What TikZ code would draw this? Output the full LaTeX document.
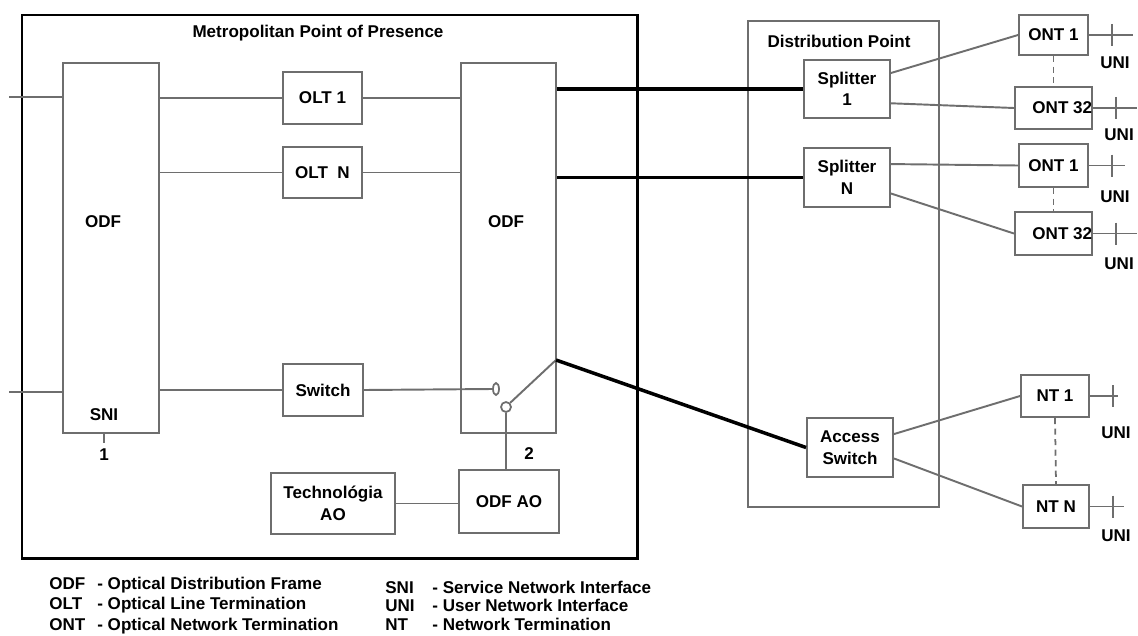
\documentclass[tikz,border=0pt]{standalone}
\usepackage{fontspec}
\setmainfont{Liberation Sans}
\usetikzlibrary{shapes.geometric}
\definecolor{wiregray}{HTML}{6E6E6E}
\tikzset{
  every node/.style={font=\fontsize{9.7}{12.3}\selectfont\bfseries},
  box/.style n args={2}{draw=wiregray, line width=1.1pt, inner sep=0pt, align=center,
    minimum width=#1*0.02cm, minimum height=#2*0.02cm},
  thinlink/.style={draw=wiregray, line width=1.1pt},
  fibrelink/.style={draw=black, line width=2pt},
  dotlink/.style={draw=wiregray, line width=1pt, dash pattern=on 3.5pt off 2.5pt},
}
\begin{document}
\begin{tikzpicture}[x=0.02cm, y=-0.02cm]
      \useasboundingbox (0,0) rectangle (1138,635);
      % metropolitan point of presence
      \node[box={615}{543}, draw=black, line width=1.7pt] (pop) at (329.5,286.5) {};
      \node (popTitle) at (318,33) {Metropolitan Point of Presence};
      \node[box={96}{370}] (odfA) at (111,248) {};
      \node (odfAlbl) at (103,222) {ODF};
      \node (sni) at (104,415) {SNI};
      \node (sniNum) at (104,455) {1};
      \node[box={79}{52}] (olt1) at (322.5,98) {OLT 1};
      \node[box={79}{51}] (oltN) at (322.5,172.5) {OLT\ \ N};
      \node[box={80}{52}] (switch) at (323,390) {Switch};
      \node[box={124}{61}] (tech) at (333,503.5) {Technológia\\AO};
      \node[box={95}{370}] (odfB) at (508.5,248) {};
      \node (odfBlbl) at (506,222) {ODF};
      \node[box={100}{63}] (odfAO) at (509,501.5) {ODF AO};
      \node[ellipse, draw=wiregray, line width=1pt, inner sep=0pt,
        minimum width=6*0.02cm, minimum height=12*0.02cm] (swA) at (496,389) {};
      \node[circle, draw=wiregray, line width=1pt, inner sep=0pt,
        minimum size=10*0.02cm] (swB) at (506,407) {};
      \node (portNum) at (529,454) {2};
      % distribution point
      \node[box={191}{486}] (dp) at (843.5,264) {};
      \node (dpTitle) at (839,41) {Distribution Point};
      \node[box={86}{58}] (spl1) at (847,89) {Splitter\\1};
      \node[box={86}{59}] (splN) at (847,177.5) {Splitter\\N};
      \node[box={86}{59}] (acc) at (850,447.5) {Access\\Switch};
      % terminations
      \node[box={69}{40}] (ont1a) at (1053.5,35) {ONT 1};
      \node[box={69}{42}] (ont32a) at (1053.5,108) {\hspace*{10pt}ONT 32};
      \node[box={69}{43}] (ont1b) at (1053.5,165.5) {ONT 1};
      \node[box={69}{43}] (ont32b) at (1053.5,233.5) {\hspace*{10pt}ONT 32};
      \node[box={68}{42}] (nt1) at (1055,396) {NT 1};
      \node[box={66}{43}] (ntN) at (1056,506.5) {NT N};
      \coordinate (inTop) at (9,97);
      \coordinate (inBot) at (9,392);
      \coordinate (lever) at (556,360);
      \begin{scope}[thinlink]
        \draw (inTop) -- (inTop -| odfA.west);
        \draw (inBot) -- (inBot -| odfA.west);
        \draw (odfA.east |- olt1.west) -- (olt1.west);
        \draw (odfA.east |- oltN.west) -- (oltN.west);
        \draw (odfA.east |- switch.west) -- (switch.west);
        \draw (olt1.east) -- (olt1.east -| odfB.west);
        \draw (oltN.east) -- (oltN.east -| odfB.west);
        \draw (switch.east) -- (swA.west);
        \draw (swB.45) -- (lever);
        \draw (swB.south) -- (swB.south |- odfAO.north);
        \draw (tech.east) -- (tech.east -| odfAO.west);
        \draw (sni |- odfA.south) -- ++(0,9);
        \draw (spl1.20) -- (ont1a.west);
        \draw (spl1.-18) -- (ont32a.west);
        \draw (splN.17) -- (ont1b.west);
        \draw (splN.-20) -- (ont32b.west);
        \draw (acc.17) -- (nt1.west);
        \draw (acc.-14) -- (ntN.west);
      \end{scope}
      \begin{scope}[fibrelink]
        \draw (odfB.east |- spl1.west) -- (spl1.west);
        \draw (odfB.east |- splN.west) -- (splN.west);
        \draw (lever) -- (acc.west);
      \end{scope}
      \draw[dotlink] (ont1a.south) -- (ont32a.north);
      \draw[dotlink] (ont1b.south) -- (ont32b.north);
      \draw[dotlink] (nt1.south) -- (ntN.north);
      % user network interfaces
      \foreach \n/\len/\dy in {ont1a/44/28, ont32a/44/27, ont1b/36/31, ont32b/44/30, nt1/28/37, ntN/34/29} {
        \draw[thinlink] (\n.east) -- ++(\len,0);
        \draw[thinlink] (\n.east) ++(23,-11) -- ++(0,22);
        \node (uni-\n) at ([shift={(26,\dy)}]\n.east) {UNI};
      }
      % legend
      \foreach \a/\t [count=\i] in {ODF/Optical Distribution Frame, OLT/Optical Line Termination, ONT/Optical Network Termination} {
        \node[anchor=base west, inner sep=0pt] (abbL\i) at (49,{589+20.5*(\i-1)}) {\a};
        \node[anchor=base west, inner sep=0pt] (txtL\i) at (97,{589+20.5*(\i-1)}) {- \t};
      }
      \foreach \a/\t [count=\i] in {SNI/Service Network Interface, UNI/User Network Interface, NT/Network Termination} {
        \node[anchor=base west, inner sep=0pt] (abbR\i) at (385,{593+18.5*(\i-1)}) {\a};
        \node[anchor=base west, inner sep=0pt] (txtR\i) at (432,{593+18.5*(\i-1)}) {- \t};
      }
    \end{tikzpicture}
\end{document}
